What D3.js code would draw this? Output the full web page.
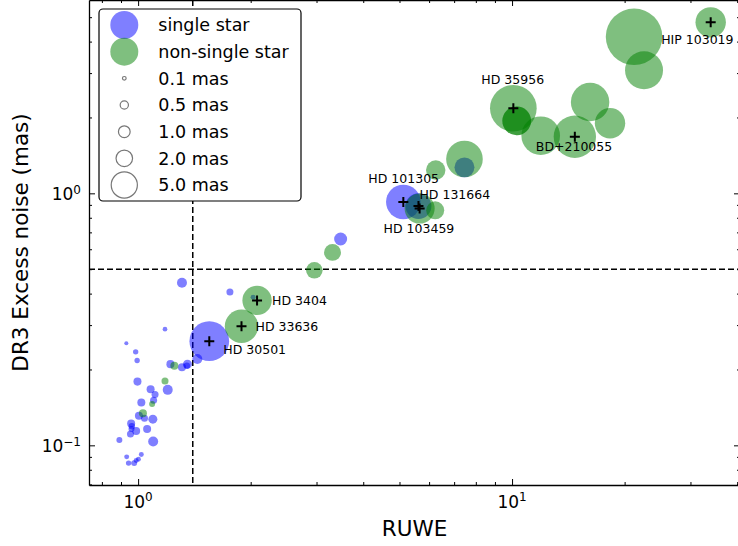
<!DOCTYPE html>
<html>
<head>
<meta charset="utf-8">
<script src="https://cdn.jsdelivr.net/npm/d3@7"></script>
<style>
  body { margin: 0; background: #fff; }
  text { font-family: "DejaVu Sans", sans-serif; fill: #000; }
</style>
</head>
<body>
<div id="vis"></div>
<script>
const FRAME_WIDTH = 738;
const FRAME_HEIGHT = 546;
const PLOT = {left: 89, right: 740, top: 0, bottom: 485};

// single stars: RUWE, DR3 excess noise (mas), marker size (mas)
const singleRuwe  = [1.31, 1.76, 1.18, 0.93, 0.985, 0.994, 1.22, 1.31, 1.355, 1.35, 1.44, 0.996, 1.08, 1.11, 1.20, 1.02, 1.10, 1.005, 1.04, 1.095,
                     0.958, 0.962, 0.96, 0.988, 1.057, 0.954, 0.891, 1.097, 0.932, 1.02, 1.002, 0.943, 0.976, 0.988, 2.03, 3.48, 5.12, 5.62, 7.46, 1.55];
const singleNoise = [0.442, 0.406, 0.289, 0.254, 0.235, 0.217, 0.210, 0.204, 0.210, 0.207, 0.220, 0.179, 0.167, 0.159, 0.166, 0.148, 0.151, 0.131, 0.128, 0.127,
                     0.122, 0.119, 0.116, 0.114, 0.116, 0.111, 0.105, 0.1035, 0.090, 0.092, 0.088, 0.085, 0.085, 0.087, 0.387, 0.659, 0.924, 0.890, 1.268, 0.259];
const singleSize  = [0.73, 0.36, 0.16, 0.12, 0.21, 0.21, 0.47, 0.47, 0.59, 0.30, 0.73, 0.47, 0.47, 0.36, 0.73, 0.47, 0.36, 0.47, 0.36, 0.59,
                     0.47, 0.30, 0.26, 0.47, 0.47, 0.36, 0.26, 0.73, 0.18, 0.18, 0.18, 0.21, 0.26, 0.18, 0.18, 1.23, 8.75, 4.9, 2.9, 11.5];

// non-single stars
const binaryRuwe  = [1.25, 1.18, 1.09, 1.03, 1.89, 2.08, 2.96, 3.31, 5.66, 6.23, 6.25, 7.46, 10.08, 10.29, 10.29, 11.93, 14.72, 16.17, 18.28, 21.2, 22.54, 33.98];
const binaryNoise = [0.207, 0.180, 0.146, 0.134, 0.297, 0.376, 0.495, 0.583, 0.870, 0.856, 1.237, 1.368, 2.175, 1.94, 1.94, 1.693, 1.677, 2.302, 1.896, 4.18, 3.08, 4.77];
const binarySize  = [0.47, 0.36, 0.26, 0.47, 8.15, 6.3, 2.0, 2.1, 6.6, 2.37, 2.75, 9.8, 15.9, 6.0, 6.0, 10.9, 13.1, 10.8, 6.75, 23.4, 10.55, 6.75];

// named stars
const starNames = ['HIP 103019', 'HD 35956', 'BD+210055', 'HD 101305', 'HD 131664', 'HD 103459', 'HD 3404', 'HD 33636', 'HD 30501'];
const starRuwe  = [33.98, 10.08, 14.72, 5.12, 5.62, 5.66, 2.08, 1.89, 1.55];
const starNoise = [4.77, 2.175, 1.677, 0.924, 0.890, 0.870, 0.376, 0.297, 0.259];
// text offsets in px from the star (left edge, vertical centre)
const starLabelOffset = [[-49.5, 17], [-32, -29], [-39, 10], [-35, -23], [1, -12], [-36, 20], [15, 0], [14, 0], [14, 8]];

// thresholds
const RUWE_CUT = 1.4;
const NOISE_CUT = 0.5;

// ticks
const xMajor = [1, 10];
const xMinor = [0.8, 0.9, 2, 3, 4, 5, 6, 7, 8, 9, 20, 30, 40];
const yMajor = [0.1, 1];
const yMinor = [0.07, 0.08, 0.09, 0.2, 0.3, 0.4, 0.5, 0.6, 0.7, 0.8, 0.9, 2, 3, 4, 5];

// legend
const legendClasses = ['single star', 'non-single star'];
const legendSizes = [0.1, 0.5, 1.0, 2.0, 5.0];

const BLUE = 'rgba(0,0,255,0.5)';
const GREEN = 'rgba(0,128,0,0.5)';

const FRAME = d3.select('#vis')
  .append('svg')
    .attr('width', FRAME_WIDTH)
    .attr('height', FRAME_HEIGHT);

const X_SCALE = d3.scaleLog().domain([0.739, 40.7]).range([PLOT.left, PLOT.right]);
const Y_SCALE = d3.scaleLog().domain([0.0696, 5.85]).range([PLOT.bottom, PLOT.top]);
const R_SCALE = d3.scaleSqrt().domain([0, 1]).range([0, 5.85]);

FRAME.append('clipPath').attr('id', 'clip')
  .append('rect')
    .attr('x', PLOT.left).attr('y', PLOT.top)
    .attr('width', PLOT.right - PLOT.left).attr('height', PLOT.bottom - PLOT.top);

const plotG = FRAME.append('g').attr('clip-path', 'url(#clip)');

// dashed threshold lines
plotG.append('line')
  .attr('x1', X_SCALE(RUWE_CUT)).attr('x2', X_SCALE(RUWE_CUT))
  .attr('y1', PLOT.top).attr('y2', PLOT.bottom)
  .attr('stroke', '#000').attr('stroke-width', 1.5).attr('stroke-dasharray', '6,3');
plotG.append('line')
  .attr('x1', PLOT.left).attr('x2', PLOT.right)
  .attr('y1', Y_SCALE(NOISE_CUT)).attr('y2', Y_SCALE(NOISE_CUT))
  .attr('stroke', '#000').attr('stroke-width', 1.5).attr('stroke-dasharray', '6,3');

// points: single first, non-single on top
plotG.selectAll('.single')
  .data(d3.range(singleRuwe.length))
  .enter()
  .append('circle')
    .attr('class', 'single')
    .attr('cx', (i) => X_SCALE(singleRuwe[i]))
    .attr('cy', (i) => Y_SCALE(singleNoise[i]))
    .attr('r', (i) => R_SCALE(singleSize[i]))
    .attr('fill', BLUE);

plotG.selectAll('.binary')
  .data(d3.range(binaryRuwe.length))
  .enter()
  .append('circle')
    .attr('class', 'binary')
    .attr('cx', (i) => X_SCALE(binaryRuwe[i]))
    .attr('cy', (i) => Y_SCALE(binaryNoise[i]))
    .attr('r', (i) => R_SCALE(binarySize[i]))
    .attr('fill', GREEN);

// crosses and names
plotG.selectAll('.cross')
  .data(d3.range(starNames.length))
  .enter()
  .append('path')
    .attr('class', 'cross')
    .attr('transform', (i) => 'translate(' + X_SCALE(starRuwe[i]) + ',' + Y_SCALE(starNoise[i]) + ')')
    .attr('d', 'M-5,0H5M0,-5V5')
    .attr('stroke', '#000').attr('stroke-width', 2);

FRAME.selectAll('.starname')
  .data(d3.range(starNames.length))
  .enter()
  .append('text')
    .attr('class', 'starname')
    .attr('x', (i) => X_SCALE(starRuwe[i]) + starLabelOffset[i][0])
    .attr('y', (i) => Y_SCALE(starNoise[i]) + starLabelOffset[i][1] + 4.5)
    .attr('font-size', '12.5px')
    .text((i) => starNames[i]);

// axes: ticks point inward on all four sides
function tickAxis(axisFn, scale, values, size, translate, keepDomain) {
  const g = FRAME.append('g')
    .attr('transform', translate)
    .call(axisFn(scale).tickValues(values).tickSizeInner(-size).tickSizeOuter(0).tickFormat(''));
  g.selectAll('line').attr('stroke', '#000').attr('stroke-width', 1);
  if (keepDomain) g.select('.domain').attr('stroke', '#000').attr('stroke-width', 1.3);
  else g.select('.domain').remove();
}
tickAxis(d3.axisBottom, X_SCALE, xMajor, 6, 'translate(0,' + PLOT.bottom + ')', true);
tickAxis(d3.axisBottom, X_SCALE, xMinor, 3, 'translate(0,' + PLOT.bottom + ')', false);
tickAxis(d3.axisTop, X_SCALE, xMajor, 6, 'translate(0,' + PLOT.top + ')', true);
tickAxis(d3.axisTop, X_SCALE, xMinor, 3, 'translate(0,' + PLOT.top + ')', false);
tickAxis(d3.axisLeft, Y_SCALE, yMajor, 6, 'translate(' + PLOT.left + ',0)', true);
tickAxis(d3.axisLeft, Y_SCALE, yMinor, 3, 'translate(' + PLOT.left + ',0)', false);
tickAxis(d3.axisRight, Y_SCALE, yMajor, 6, 'translate(' + PLOT.right + ',0)', true);
tickAxis(d3.axisRight, Y_SCALE, yMinor, 3, 'translate(' + PLOT.right + ',0)', false);

function powerLabel(sel) {
  sel.append('tspan').attr('font-size', '17px').text('10');
  sel.append('tspan').attr('font-size', '12px').attr('dy', -6.5)
    .text((d) => String(Math.round(Math.log10(d))).replace('-', '\u2212'));
}

FRAME.selectAll('.xlab')
  .data(xMajor)
  .enter()
  .append('text')
    .attr('class', 'xlab')
    .attr('x', (d) => X_SCALE(d))
    .attr('y', PLOT.bottom + 22.5)
    .attr('text-anchor', 'middle')
    .call(powerLabel);

FRAME.selectAll('.ylab')
  .data(yMajor)
  .enter()
  .append('text')
    .attr('class', 'ylab')
    .attr('x', PLOT.left - 8)
    .attr('y', (d) => Y_SCALE(d) + 7)
    .attr('text-anchor', 'end')
    .call(powerLabel);

FRAME.append('text')
  .attr('x', (PLOT.left + PLOT.right) / 2)
  .attr('y', 536)
  .attr('text-anchor', 'middle')
  .attr('font-size', '21.5px')
  .text('RUWE');

FRAME.append('text')
  .attr('transform', 'translate(28,' + (PLOT.top + PLOT.bottom) / 2 + ') rotate(-90)')
  .attr('text-anchor', 'middle')
  .attr('font-size', '21.5px')
  .text('DR3 Excess noise (mas)');

// legend
const LEGEND = FRAME.append('g');
LEGEND.append('rect')
  .attr('x', 99).attr('y', 9).attr('width', 202).attr('height', 192).attr('rx', 4)
  .attr('fill', '#fff').attr('stroke', '#000').attr('stroke-width', 1.2);

const rowY = (k) => 25 + k * 26.67;

LEGEND.selectAll('.lclass')
  .data(legendClasses)
  .enter()
  .append('circle')
    .attr('cx', 124.3).attr('cy', (d, k) => rowY(k)).attr('r', 14)
    .attr('fill', (d, k) => k === 0 ? BLUE : GREEN);

LEGEND.selectAll('.lsize')
  .data(legendSizes)
  .enter()
  .append('circle')
    .attr('cx', 124.3).attr('cy', (d, k) => rowY(k + 2)).attr('r', (d) => R_SCALE(d))
    .attr('fill', 'none').attr('stroke', '#777').attr('stroke-width', 1.2);

LEGEND.selectAll('.ltext')
  .data(legendClasses.concat(legendSizes.map((d) => d.toFixed(1) + ' mas')))
  .enter()
  .append('text')
    .attr('x', 158.3).attr('y', (d, k) => rowY(k) + 6.3)
    .attr('font-size', '17.5px')
    .text((d) => d);
</script>
</body>
</html>
